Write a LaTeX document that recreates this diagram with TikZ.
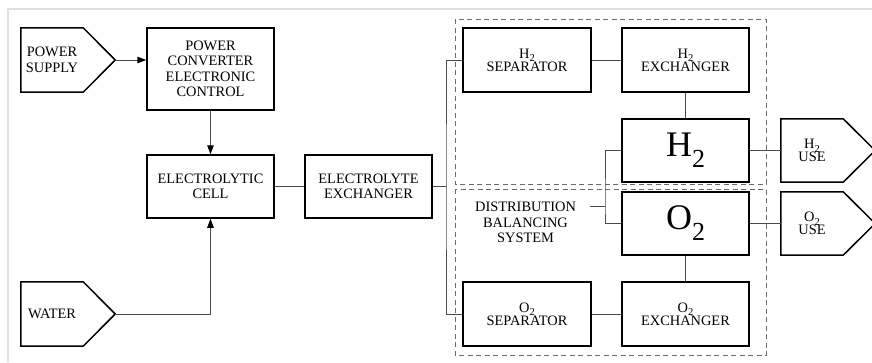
\documentclass[tikz,border=0pt]{standalone}
\usepackage{fontspec}
\setmainfont{Liberation Serif}
\usetikzlibrary{arrows.meta,calc}
\definecolor{conn}{HTML}{4A4A4A}
\definecolor{dashc}{HTML}{6A6A6A}
\definecolor{frame}{HTML}{E0E0E0}
\newcommand{\sm}[1]{\raisebox{-3.5pt}{\fontsize{10.5}{10.5}\selectfont #1}}
\newcommand{\bg}[1]{\raisebox{-11pt}{\fontsize{26}{26}\selectfont #1}}
\begin{document}
\begin{tikzpicture}[x=1pt,y=-1pt,
  lbl/.style={font=\fontsize{14.4}{15.5}\selectfont,align=center,inner sep=0pt,text=black},
  box/.style={lbl,draw=black,line width=1.5pt,minimum width=127pt,minimum height=63pt},
  tallbox/.style={box,minimum height=82pt},
  bigbox/.style={box,font=\fontsize{36}{40}\selectfont},
  sigtext/.style={lbl,minimum width=62pt,minimum height=64pt},
  sigline/.style={draw=black,line width=1.5pt,line join=miter},
  conn/.style={draw=conn,line width=1pt},
  arr/.style={conn,-{Triangle[length=9pt,width=6.5pt,color=black]}},
  grp/.style={draw=dashc,line width=0.9pt,dash pattern=on 5pt off 3.5pt}
]
\useasboundingbox (0,0) rectangle (872,362);
% screenshot frame
\draw[frame,line width=1.2pt] (8,362) -- (8,9) -- (872,9);

% dashed groups
\draw[grp] (455,19) rectangle (766,184);
\draw[grp] (455,189) rectangle (766,355);

% boxes
\node[tallbox] (pc) at (210.5,69) {POWER\\CONVERTER\\ELECTRONIC\\CONTROL};
\node[box] (ec) at (210.5,186.5) {ELECTROLYTIC\\CELL};
\node[box] (ee) at (368.5,186.5) {ELECTROLYTE\\EXCHANGER};
\node[box,minimum width=128pt,minimum height=64pt] (h2s) at (527,60) {H\sm{2}\\[-2.5pt]SEPARATOR};
\node[box,minimum height=64pt] (h2e) at (685.5,60) {H\sm{2}\\[-2.5pt]EXCHANGER};
\node[bigbox] (h2) at (685.5,150.5) {H\bg{2}};
\node[bigbox] (o2) at (685.5,223.5) {O\bg{2}};
\node[box,minimum width=128pt,minimum height=64pt] (o2s) at (527,314) {O\sm{2}\\[-2.5pt]SEPARATOR};
\node[box,minimum height=64pt] (o2e) at (685.5,314) {O\sm{2}\\[-2.5pt]EXCHANGER};
\node[lbl] (dbs) at (525.5,222.5) {DISTRIBUTION\\BALANCING\\SYSTEM};

% signal-shaped terminals: text node over rectangular part, outline drawn from anchors
\node[sigtext] (ps) at (52,60) {POWER\\SUPPLY};
\node[sigtext] (wa) at (52,314) {WATER};
\node[sigtext,minimum height=63pt] (h2u) at (812,150.5) {H\sm{2}\\[-2.5pt]USE};
\node[sigtext,minimum height=63pt] (o2u) at (812,223.5) {O\sm{2}\\[-2.5pt]USE};
\foreach \n in {ps,wa,h2u,o2u}{
  \coordinate (\n tip) at ($(\n.east)+(32,0)$);
  \draw[sigline] (\n.north west) -- (\n.north east) -- (\n tip) -- (\n.south east) -- (\n.south west) -- cycle;
}

% connectors
\draw[arr] (pstip) -- (pstip -| pc.west);
\draw[arr] (pc.south) -- (ec.north);
\draw[arr] (watip) -| (ec.south);
\draw[conn] (ec.east) -- (ee.west);
\coordinate (bus) at (446,186.5);
\draw[conn] (ee.east) -- (bus);
\draw[conn] (h2s.west) -| (bus) |- (o2s.west);
\draw[conn] (h2s.east) -- (h2e.west);
\draw[conn] (o2s.east) -- (o2e.west);
\draw[conn] (h2e.south) -- (h2.north);
\draw[conn] (o2.south) -- (o2e.north);
\draw[conn] (h2.east) -- (h2u.west);
\draw[conn] (o2.east) -- (o2u.west);
\coordinate (dj) at (605,206);
\coordinate (dstub) at (590,206);
\draw[conn] (h2.west) -| (dj) |- (o2.west);
\draw[conn] (dstub) -- (dj);
\end{tikzpicture}
\end{document}
